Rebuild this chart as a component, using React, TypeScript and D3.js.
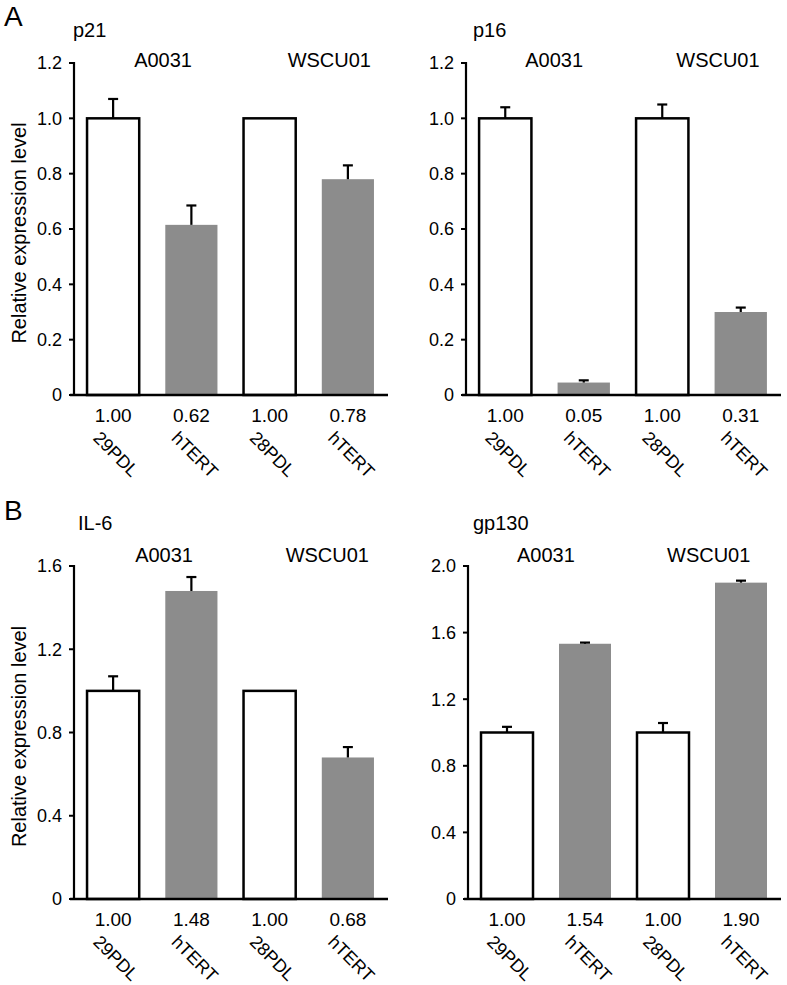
import React from 'react';
import * as d3 from 'd3';

// sample order inside every panel
const samples = ['29PDL', 'hTERT', '28PDL', 'hTERT'];
const groups = ['A0031', 'WSCU01'];
const barFills = ['#ffffff', '#8c8c8c', '#ffffff', '#8c8c8c'];

// p21
const p21Means = [1.0, 0.615, 1.0, 0.78];
const p21Errors = [0.07, 0.07, 0, 0.05];
const p21Printed = ['1.00', '0.62', '1.00', '0.78'];

// p16
const p16Means = [1.0, 0.045, 1.0, 0.3];
const p16Errors = [0.04, 0.008, 0.05, 0.016];
const p16Printed = ['1.00', '0.05', '1.00', '0.31'];

// IL-6
const il6Means = [1.0, 1.48, 1.0, 0.68];
const il6Errors = [0.07, 0.067, 0, 0.05];
const il6Printed = ['1.00', '1.48', '1.00', '0.68'];

// gp130
const gp130Means = [1.0, 1.533, 1.0, 1.9];
const gp130Errors = [0.034, 0.007, 0.057, 0.012];
const gp130Printed = ['1.00', '1.54', '1.00', '1.90'];

const ticksA = [0, 0.2, 0.4, 0.6, 0.8, 1.0, 1.2];
const ticksIL6 = [0, 0.4, 0.8, 1.2, 1.6];
const ticksGp130 = [0, 0.4, 0.8, 1.2, 1.6, 2.0];

const FONT = '"Liberation Sans", Arial, Helvetica, sans-serif';

type PanelProps = {
  title: string;
  titleX: number;
  titleY: number;
  means: number[];
  errors: number[];
  printed: string[];
  ticks: number[];
  left: number;
  right: number;
  top: number;
  bottom: number;
  groupY: number;
  groupDx: number[];
  yLabel?: boolean;
};

const Panel = (p: PanelProps) => {
  const x = d3.scaleBand<number>()
    .domain(d3.range(samples.length))
    .range([p.left, p.right])
    .paddingInner(1 / 3)
    .paddingOuter(1 / 6);
  const y = d3.scaleLinear()
    .domain([0, p.ticks[p.ticks.length - 1]])
    .range([p.bottom, p.top]);
  const bw = x.bandwidth();
  const fmt = (d: number) => (d === 0 ? '0' : d3.format('.1f')(d));
  const cx = (i: number) => (x(i) as number) + bw / 2;

  return (
    <g fontFamily={FONT} fill="#000">
      <text x={p.titleX} y={p.titleY} fontSize={20}>{p.title}</text>
      {groups.map((g, gi) => (
        <text key={g} x={cx(gi * 2) + p.groupDx[gi]} y={p.groupY} fontSize={20}>{g}</text>
      ))}

      {/* bars */}
      {p.means.map((m, i) => (
        <rect
          key={'b' + i}
          x={x(i)}
          y={y(m)}
          width={bw}
          height={y(0) - y(m)}
          fill={barFills[i]}
          stroke={barFills[i] === '#ffffff' ? '#000' : 'none'}
          strokeWidth={2.5}
        />
      ))}

      {/* upper error bars */}
      {p.errors.map((e, i) => e > 0 && (
        <g key={'e' + i} stroke="#000" strokeWidth={2.2}>
          <line x1={cx(i)} x2={cx(i)} y1={y(p.means[i])} y2={y(p.means[i] + e)} />
          <line x1={cx(i) - 5} x2={cx(i) + 5} y1={y(p.means[i] + e)} y2={y(p.means[i] + e)} />
        </g>
      ))}

      {/* y axis */}
      <line x1={p.left} x2={p.left} y1={y(p.ticks[p.ticks.length - 1]) - 1} y2={y(0)} stroke="#000" strokeWidth={2.2} />
      {p.ticks.map(t => (
        <g key={'t' + t}>
          <line x1={p.left - 5} x2={p.left} y1={y(t)} y2={y(t)} stroke="#000" strokeWidth={2} />
          <text x={p.left - 12} y={y(t)} dy="0.35em" textAnchor="end" fontSize={18}>{fmt(t)}</text>
        </g>
      ))}
      {/* x axis */}
      <line x1={p.left - 4} x2={p.right + 1} y1={y(0)} y2={y(0)} stroke="#000" strokeWidth={2.5} />

      {/* printed values and sample names */}
      {p.printed.map((v, i) => (
        <text key={'v' + i} x={cx(i)} y={y(0) + 27} textAnchor="middle" fontSize={19}>{v}</text>
      ))}
      {samples.map((s, i) => (
        <text key={'s' + i} transform={`translate(${cx(i) - 21},${y(0) + 44}) rotate(45)`} fontSize={18}>{s}</text>
      ))}

      {p.yLabel && (
        <text
          transform={`translate(26,${(p.top + p.bottom) / 2 + 4}) rotate(-90)`}
          textAnchor="middle"
          fontSize={20}
        >Relative expression level</text>
      )}
    </g>
  );
};

const App = () => {
  return (
    <div style={{ position: 'absolute', left: 0, top: 0 }}>
      <svg width={787} height={985} style={{ display: 'block', background: '#fff' }}>
        <text x={4} y={26} fontFamily={FONT} fontSize={28}>A</text>
        <text x={4} y={520} fontFamily={FONT} fontSize={28}>B</text>

        <Panel title="p21" titleX={73} titleY={37} means={p21Means} errors={p21Errors} printed={p21Printed}
          ticks={ticksA} left={74} right={387} top={63} bottom={395} groupY={67} groupDx={[21, 18]} yLabel />
        <Panel title="p16" titleX={473} titleY={37} means={p16Means} errors={p16Errors} printed={p16Printed}
          ticks={ticksA} left={466} right={780} top={63} bottom={395} groupY={67} groupDx={[20, 14]} />
        <Panel title="IL-6" titleX={78} titleY={530} means={il6Means} errors={il6Errors} printed={il6Printed}
          ticks={ticksIL6} left={74} right={387} top={566} bottom={899} groupY={562} groupDx={[22, 16]} yLabel />
        <Panel title="gp130" titleX={473} titleY={530} means={gp130Means} errors={gp130Errors} printed={gp130Printed}
          ticks={ticksGp130} left={468} right={780} top={566} bottom={899} groupY={562} groupDx={[10, 4]} />
      </svg>
    </div>
  );
};

export default App;
